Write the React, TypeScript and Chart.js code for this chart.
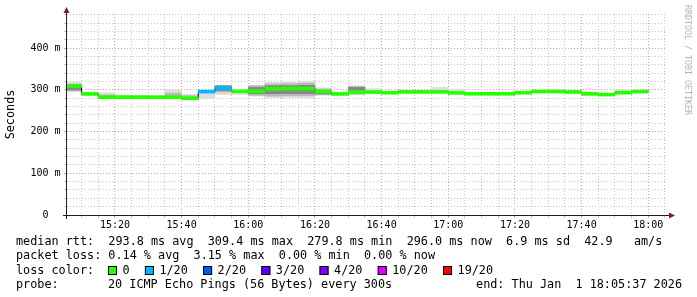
import React, { useEffect, useRef } from 'react';
import { Chart, registerables } from 'chart.js';

Chart.register(...registerables);

// ---- data (5-minute intervals, start times) ----
const intervalStarts = [
  '15:05', '15:10', '15:15', '15:20', '15:25', '15:30', '15:35', '15:40', '15:45', '15:50',
  '15:55', '16:00', '16:05', '16:10', '16:15', '16:20', '16:25', '16:30', '16:35', '16:40',
  '16:45', '16:50', '16:55', '17:00', '17:05', '17:10', '17:15', '17:20', '17:25', '17:30',
  '17:35', '17:40', '17:45', '17:50', '17:55',
];
const medianRtt = [
  309.4, 290.4, 282.5, 282.5, 282.5, 282.5, 282.5, 279.8, 296.0, 304.0,
  296.5, 297.0, 302.5, 303.0, 303.0, 296.0, 290.4, 295.0, 294.8, 293.2,
  295.2, 295.2, 295.2, 292.8, 290.7, 290.7, 290.7, 293.2, 296.2, 296.2,
  295.0, 290.4, 288.8, 293.2, 296.0,
];
const lossPercent = [
  0, 0, 0, 0, 0, 0, 0, 0, 3.15, 1.75,
  0, 0, 0, 0, 0, 0, 0, 0, 0, 0,
  0, 0, 0, 0, 0, 0, 0, 0, 0, 0,
  0, 0, 0, 0, 0,
];
const smokeMin = [
  296, 288, 281, 281, 281, 281, 281, 278, 279, 289,
  289, 285, 282, 282, 282, 287, 288, 288, 293, 291,
  293, 293, 293, 291, 289, 289, 289, 291, 294, 294,
  293, 289, 287, 291, 294,
];
const smokeMax = [
  318, 293, 293, 288, 287, 284, 299, 289, 298, 311,
  298, 311, 318, 319, 320, 305, 292, 310, 303, 295,
  297, 297, 306, 302, 292, 292, 292, 295, 298, 298,
  297, 292, 291, 299, 298,
];
const smokeMidLo = [
  298, null, 282, 282, 282, null, 282, 279, null, 295,
  null, 287, 285, 286, 286, 289, null, 290, null, null,
  null, null, null, null, null, null, null, null, null, null,
  null, null, null, null, null,
];
const smokeMidHi = [
  314, null, 288, 285, 284, null, 292, 286, null, 310,
  null, 310, 314, 315, 316, 302, null, 308, null, null,
  null, null, null, null, null, null, null, null, null, null,
  null, null, null, null, null,
];
const smokeInnerLo = [
  300, null, null, null, null, null, null, null, null, 298,
  null, 291, 291, 291, 291, 290, null, 293, null, null,
  null, null, null, null, null, null, null, null, null, null,
  null, null, null, null, null,
];
const smokeInnerHi = [
  310, null, null, null, null, null, null, null, null, 310,
  null, 306, 310, 310, 311, 299, null, 306, null, null,
  null, null, null, null, null, null, null, null, null, null,
  null, null, null, null, null,
];

const viewStart = '15:05:37';
const viewEnd = '18:05:37';
const stepMinutes = 5;
const xTickLabels = ['15:20', '15:40', '16:00', '16:20', '16:40', '17:00', '17:20', '17:40', '18:00'];
const yMax = 482;
const yGridStep = 20;
const yLabelValues = [0, 100, 200, 300, 400];

const lossLabels = ['0', '1/20', '2/20', '3/20', '4/20', '10/20', '19/20'];
const lossLimits = [0, 1, 2, 3, 4, 10, 19];
const lossColors = ['#26ff00', '#00b8ff', '#0059ff', '#5e00ff', '#7e00ff', '#dd00ff', '#ff0000'];

const legendLine1 = 'median rtt:  293.8 ms avg  309.4 ms max  279.8 ms min  296.0 ms now  6.9 ms sd  42.9   am/s';
const legendLine2 = 'packet loss: 0.14 % avg  3.15 % max  0.00 % min  0.00 % now';
const legendLossTitle = 'loss color:';
const probeLabel = 'probe:';
const probeText = '20 ICMP Echo Pings (56 Bytes) every 300s';
const endText = 'end: Thu Jan  1 18:05:37 2026';
const watermark = 'RRDTOOL / TOBI OETIKER';
const yTitle = 'Seconds';

// ---- helpers ----
const toMinutes = (s: string) => {
  const p = s.split(':').map(Number);
  return (p[0] - 15) * 60 + p[1] + (p[2] || 0) / 60;
};
const xMin = toMinutes(viewStart);
const xMax = toMinutes(viewEnd);
const starts = intervalStarts.map(toMinutes);
const mids = starts.map((s) => s + stepMinutes / 2);
const majorX = xTickLabels.map(toMinutes);

const lossColor = (pct: number) => {
  const pings = (pct / 100) * 20;
  if (pings <= 0) return lossColors[0];
  for (let i = 1; i < lossLimits.length; i++) if (pings <= lossLimits[i]) return lossColors[i];
  return lossColors[lossColors.length - 1];
};

const MONO = '"DejaVu Sans Mono", monospace';
const MEDIAN_HALF = 3.6;
const MINOR_GRID = '#c4c4c4';
const MAJOR_GRID = '#e69a9a';
const GRID_DASH = [1, 2];

const band = (lo: (number | null)[], hi: (number | null)[]) =>
  mids
    .map((x, i) => (lo[i] == null || hi[i] == null ? null : { x, y: [lo[i], hi[i]] }))
    .filter((d) => d !== null);

const decorPlugin = {
  id: 'rrdDecor',
  afterDraw(chart: any) {
    const ctx = chart.ctx as CanvasRenderingContext2D;
    const { left, right, top, bottom } = chart.chartArea;
    ctx.save();
    // axes
    ctx.strokeStyle = '#1f1f1f';
    ctx.lineWidth = 1;
    ctx.beginPath();
    ctx.moveTo(left - 4, bottom + 0.5);
    ctx.lineTo(right + 4, bottom + 0.5);
    ctx.moveTo(left - 0.5, bottom + 4);
    ctx.lineTo(left - 0.5, top - 2);
    ctx.stroke();
    // arrows
    ctx.fillStyle = '#801f1f';
    ctx.beginPath();
    ctx.moveTo(right + 2, bottom + 0.5 - 3);
    ctx.lineTo(right + 8, bottom + 0.5);
    ctx.lineTo(right + 2, bottom + 0.5 + 3);
    ctx.closePath();
    ctx.fill();
    ctx.beginPath();
    ctx.moveTo(left - 0.5 - 3, top - 1);
    ctx.lineTo(left - 0.5, top - 7);
    ctx.lineTo(left - 0.5 + 3, top - 1);
    ctx.closePath();
    ctx.fill();
    // watermark
    ctx.save();
    ctx.font = `8.3px ${MONO}`;
    ctx.fillStyle = '#b4b4b4';
    ctx.textBaseline = 'middle';
    ctx.translate(687.5, 5);
    ctx.rotate(Math.PI / 2);
    ctx.fillText(watermark, 0, 0);
    ctx.restore();
    // legend
    ctx.font = `11.8px ${MONO}`;
    ctx.fillStyle = '#000';
    ctx.textBaseline = 'middle';
    ctx.textAlign = 'left';
    ctx.fillText(legendLine1, 16, 241.5);
    ctx.fillText(legendLine2, 16, 256);
    const ly = 270.5;
    ctx.fillText(legendLossTitle, 16, ly);
    let x = 108;
    lossLabels.forEach((lab, i) => {
      ctx.fillStyle = lossColors[i];
      ctx.fillRect(x, ly - 4.5, 9, 9);
      ctx.strokeStyle = '#000';
      ctx.strokeRect(x + 0.5, ly - 4, 8, 8);
      ctx.fillStyle = '#000';
      const lx = x + 14.5;
      ctx.fillText(lab, lx, ly);
      x = lx + ctx.measureText(lab).width + 15.3;
    });
    ctx.fillText(probeLabel, 16, 285);
    ctx.fillText(probeText, 108, 285);
    ctx.textAlign = 'right';
    ctx.fillText(endText, 682, 285);
    ctx.restore();
  },
};

export default function App() {
  const ref = useRef<HTMLCanvasElement>(null);

  useEffect(() => {
    if (!ref.current) return;
    const lineData = starts.map((x, i) => ({ x, y: medianRtt[i] }));
    lineData.push({ x: starts[starts.length - 1] + stepMinutes, y: medianRtt[medianRtt.length - 1] });

    const barCommon = {
      type: 'bar' as const,
      grouped: false,
      barPercentage: 1,
      categoryPercentage: 1,
      borderWidth: 0,
    };

    const xTicks: number[] = [];
    for (let v = Math.ceil(xMin / stepMinutes) * stepMinutes; v <= xMax; v += stepMinutes) xTicks.push(v);
    const yTicks: number[] = [];
    for (let v = 0; v < yMax; v += yGridStep) yTicks.push(v);

    const chart = new Chart(ref.current, {
      type: 'bar',
      data: {
        datasets: [
          {
            ...barCommon,
            data: mids.map((x, i) => ({ x, y: [medianRtt[i] - MEDIAN_HALF, medianRtt[i] + MEDIAN_HALF] })),
            backgroundColor: lossPercent.map(lossColor),
            order: 0,
          } as any,
          {
            type: 'line',
            data: lineData,
            borderColor: '#000',
            borderWidth: 1,
            pointRadius: 0,
            stepped: 'before',
            fill: false,
            order: 1,
          } as any,
          { ...barCommon, data: band(smokeInnerLo, smokeInnerHi), backgroundColor: '#888888', order: 2 } as any,
          { ...barCommon, data: band(smokeMidLo, smokeMidHi), backgroundColor: '#b9b9b9', order: 3 } as any,
          { ...barCommon, data: band(smokeMin, smokeMax), backgroundColor: '#dddddd', order: 4 } as any,
        ],
      },
      options: {
        animation: false,
        responsive: false,
        devicePixelRatio: 1,
        layout: { padding: { top: 14, right: 30, left: 0, bottom: 0 } },
        plugins: { legend: { display: false }, tooltip: { enabled: false } },
        scales: {
          x: {
            type: 'linear',
            min: xMin,
            max: xMax,
            offset: false,
            afterBuildTicks: (s: any) => {
              s.ticks = xTicks.map((value) => ({ value }));
            },
            afterFit: (s: any) => {
              s.height = 82;
            },
            grid: {
              offset: false,
              lineWidth: 1,
              tickLength: 3,
              color: (c: any) => (majorX.includes(c.tick?.value) ? MAJOR_GRID : MINOR_GRID),
              tickColor: (c: any) => (majorX.includes(c.tick?.value) ? MAJOR_GRID : MINOR_GRID),
            },
            border: { display: false, dash: GRID_DASH },
            ticks: {
              autoSkip: false,
              maxRotation: 0,
              minRotation: 0,
              padding: 1,
              color: '#000',
              font: { family: MONO, size: 10 },
              callback: (v: any) => {
                const k = majorX.indexOf(Number(v));
                return k >= 0 ? xTickLabels[k] : '';
              },
            },
          },
          y: {
            type: 'linear',
            min: 0,
            max: yMax,
            afterBuildTicks: (s: any) => {
              s.ticks = yTicks.map((value) => ({ value }));
            },
            afterFit: (s: any) => {
              s.width = 67;
            },
            grid: {
              lineWidth: 1,
              tickLength: 3,
              color: (c: any) => (yLabelValues.includes(c.tick?.value) ? MAJOR_GRID : MINOR_GRID),
              tickColor: (c: any) => (yLabelValues.includes(c.tick?.value) ? MAJOR_GRID : MINOR_GRID),
            },
            border: { display: false, dash: GRID_DASH },
            ticks: {
              autoSkip: false,
              padding: 3.5,
              color: '#000',
              font: { family: MONO, size: 10 },
              callback: (v: any) => {
                const n = Number(v);
                if (!yLabelValues.includes(n)) return '';
                return n === 0 ? '0  ' : `${n} m`;
              },
            },
            title: {
              display: true,
              text: yTitle,
              color: '#000',
              font: { family: MONO, size: 11.8 },
              padding: { top: 3.7, bottom: 0 },
            },
          },
        },
      },
      plugins: [decorPlugin],
    } as any);
    return () => chart.destroy();
  }, []);

  return (
    <div style={{ position: 'absolute', left: 0, top: 0, width: 697, height: 297, background: '#fff' }}>
      <canvas ref={ref} width={697} height={297} style={{ display: 'block', width: 697, height: 297 }} />
    </div>
  );
}
